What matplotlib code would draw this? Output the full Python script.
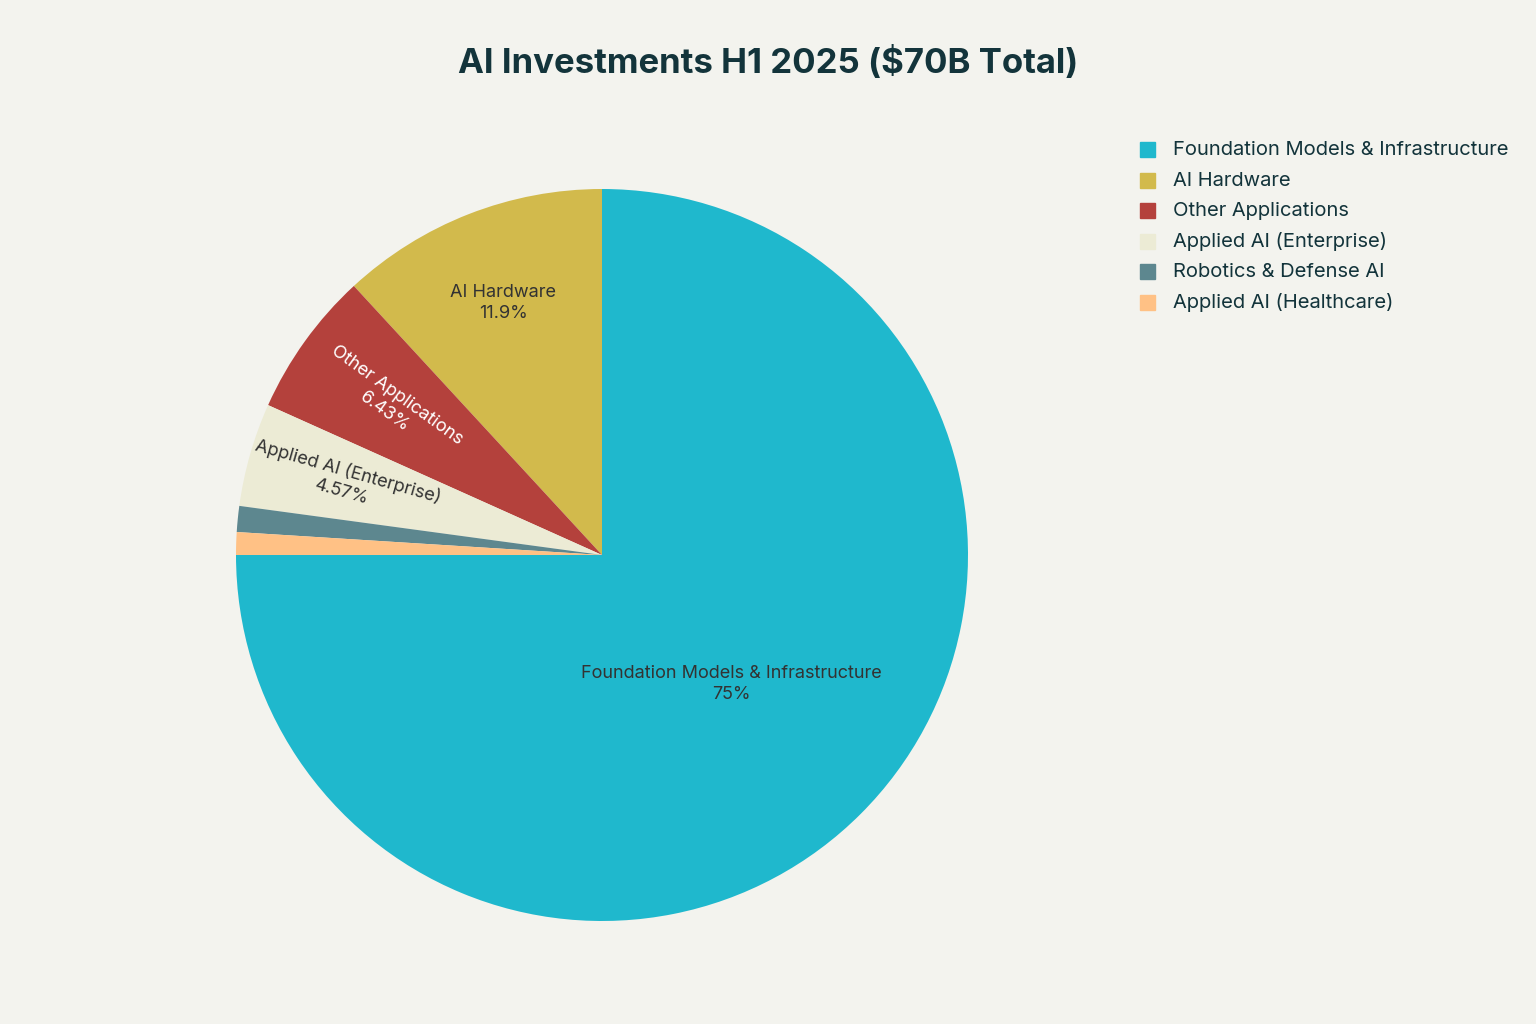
import matplotlib
matplotlib.use("Agg")
import matplotlib.pyplot as plt
import numpy as np

categories = ["Foundation Models & Infrastructure", "AI Hardware", "Other Applications",
              "Applied AI (Enterprise)", "Robotics & Defense AI", "Applied AI (Healthcare)"]
values = [52.5, 8.3, 4.5, 3.2, 0.8, 0.7]
pct_labels = ["75%", "11.9%", "6.43%", "4.57%", "", ""]
colors = ["#1FB8CD", "#D2BA4C", "#B4413C", "#ECEBD5", "#5D878F", "#FFC185"]
bg = "#F3F3EE"

plt.rcParams["font.family"] = "Inter"
fig = plt.figure(figsize=(15.36, 10.24), dpi=100, facecolor=bg)
cx, cy, r = 602, 555, 366
ax = fig.add_axes([(cx - r) / 1536, (1024 - cy - r) / 1024, 2 * r / 1536, 2 * r / 1024])
ax.set_facecolor(bg)
wedges, _ = ax.pie(values, colors=colors, startangle=180, counterclock=True, radius=1,
                   wedgeprops=dict(linewidth=0))
ax.set_xlim(-1, 1); ax.set_ylim(-1, 1); ax.set_aspect("equal"); ax.axis("off")

total = sum(values)
start = 180.0
rads = [0.5, 0.74, 0.71, 0.73]
rot = [False, False, True, True]
tcol = ["#333333", "#333333", "white", "#333333"]
for i, v in enumerate(values):
    ang = start + 360 * v / total / 2
    start += 360 * v / total
    if i >= 4:
        continue
    a = np.deg2rad(ang)
    x, y = rads[i] * np.cos(a), rads[i] * np.sin(a)
    rotation = ang - 180 if rot[i] else 0
    ax.text(x, y, f"{categories[i]}\n{pct_labels[i]}", ha="center", va="center",
            rotation=rotation, rotation_mode="anchor", fontsize=13, color=tcol[i],
            linespacing=1.3)

fig.text(0.5, 1 - 63 / 1024, "AI Investments H1 2025 ($70B Total)", ha="center", va="center",
         fontsize=25, fontweight="bold", color="#13343B")

for i, (c, col) in enumerate(zip(categories, colors)):
    y = 1 - (150 + 30.5 * i) / 1024
    fig.patches.append(plt.Rectangle((1140 / 1536, y - 7 / 1024), 15 / 1536, 15 / 1024,
                                     transform=fig.transFigure, color=col))
    fig.text(1173 / 1536, y, c, ha="left", va="center", fontsize=14.5, color="#13343B")

fig.savefig("out.png", facecolor=bg)
